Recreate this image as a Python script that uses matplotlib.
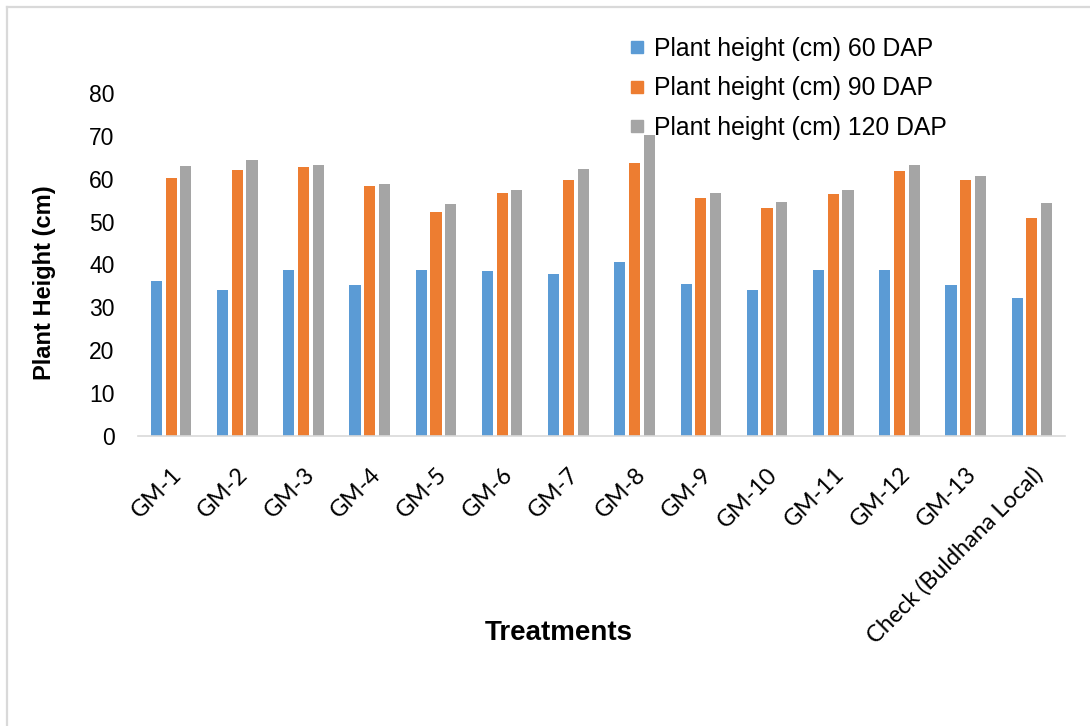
import matplotlib
matplotlib.use("Agg")
import matplotlib.pyplot as plt
import numpy as np
from matplotlib.lines import Line2D

categories = ["GM-1", "GM-2", "GM-3", "GM-4", "GM-5", "GM-6", "GM-7", "GM-8",
              "GM-9", "GM-10", "GM-11", "GM-12", "GM-13", "Check (Buldhana Local)"]
h60 = [36.1, 34.0, 38.7, 35.2, 38.7, 38.5, 37.8, 40.6, 35.4, 34.0, 38.7, 38.7, 35.2, 32.2]
h90 = [60.1, 62.0, 62.7, 58.3, 52.2, 56.6, 59.7, 63.6, 55.5, 53.1, 56.4, 61.8, 59.7, 50.8]
h120 = [62.9, 64.3, 63.2, 58.7, 54.1, 57.3, 62.2, 70.2, 56.6, 54.5, 57.3, 63.2, 60.6, 54.3]
series_labels = ["Plant height (cm) 60 DAP", "Plant height (cm) 90 DAP", "Plant height (cm) 120 DAP"]
colors = ["#5B9BD5", "#ED7D31", "#A5A5A5"]

W, H = 1090, 726
fig = plt.figure(figsize=(W / 100, H / 100), dpi=100)
ax = fig.add_axes([138 / W, 1 - 436 / H, (1065 - 138) / W, (436 - 93) / H])

x = np.arange(len(categories))
bw = 0.168
step = 0.222
for i, (vals, c) in enumerate(zip([h60, h90, h120], colors)):
    ax.bar(x + (i - 1) * step, vals, width=bw, color=c, zorder=2)

ax.set_xlim(-0.5, len(categories) - 0.5)
ax.set_ylim(0, 80)
ax.set_yticks(range(0, 81, 10))
ax.set_xticks(x)
ax.set_xticklabels(categories, rotation=45, ha="right", rotation_mode="anchor",
                   fontfamily="Lato", fontsize=16.8)
for lab in ax.get_yticklabels():
    lab.set_fontfamily("Liberation Sans")
    lab.set_fontsize(16.5)
ax.tick_params(axis="y", length=0, pad=17)
ax.tick_params(axis="x", length=0, pad=20)
for s in ["top", "right", "left"]:
    ax.spines[s].set_visible(False)
ax.spines["bottom"].set_color("#d9d9d9")
ax.spines["bottom"].set_linewidth(1.2)

fig.text(45 / W, 1 - 283 / H, "Plant Height (cm)", rotation=90, ha="center", va="center",
         fontfamily="Liberation Sans", fontweight="bold", fontsize=17)
fig.text(559 / W, 1 - 633 / H, "Treatments", ha="center", va="center",
         fontfamily="Liberation Sans", fontweight="bold", fontsize=20)

handles = [Line2D([], [], linestyle="none", marker="s", markersize=8.5,
                  markerfacecolor=c, markeredgecolor=c) for c in colors]
leg = fig.legend(handles, series_labels, loc="upper left",
                 bbox_to_anchor=(628 / W, 1 - 37 / H), frameon=False,
                 prop={"family": "Liberation Sans", "size": 17.8},
                 handlelength=0.7, handletextpad=0.35, labelspacing=0.62,
                 borderpad=0, borderaxespad=0)

# figure frame (only top and left visible in the crop)
fig.add_artist(Line2D([7 / W, 1.0], [1 - 7 / H, 1 - 7 / H], color="#d9d9d9", lw=1.6,
                      transform=fig.transFigure))
fig.add_artist(Line2D([7 / W, 7 / W], [0.0, 1 - 7 / H], color="#d9d9d9", lw=1.6,
                      transform=fig.transFigure))

fig.savefig("out.png", dpi=100, facecolor="white")
